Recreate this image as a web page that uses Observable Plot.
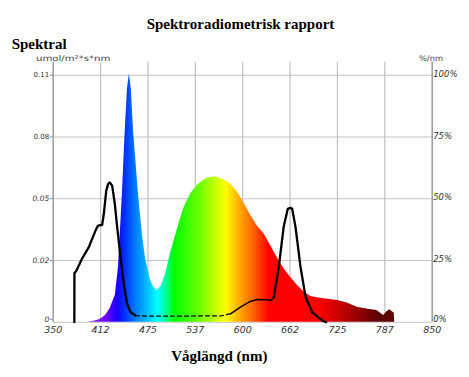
<!DOCTYPE html>
<html><head><meta charset="utf-8">
<script src="https://cdn.jsdelivr.net/npm/d3@7"></script>
<script src="https://cdn.jsdelivr.net/npm/@observablehq/plot@0.6"></script>
<style>
body{margin:0;background:#fff;}
#wrap{position:relative;width:469px;height:377px;overflow:hidden;background:#fff;}
#chart{position:absolute;left:0;top:0;}
.t{position:absolute;white-space:nowrap;line-height:15px;}
.serif{font-family:'Liberation Serif','Times New Roman',serif;font-weight:bold;font-size:15px;color:#000;}
.unit{font-family:'DejaVu Sans',sans-serif;font-size:7.8px;color:#444;line-height:9px;}
</style></head><body>
<div id="wrap">
  <div id="chart"></div>
  <div class="t serif" style="left:0;width:481px;text-align:center;top:16.7px;">Spektroradiometrisk rapport</div>
  <div class="t serif" style="left:11.7px;top:39.2px;line-height:11px;">Spektral</div>
  <div class="t unit" style="left:36px;top:53.6px;transform:scaleX(1.3);transform-origin:left top;">umol/m²*s*nm</div>
  <div class="t unit" style="left:419px;top:53.6px;transform:scaleX(1.06);transform-origin:left top;">%/nm</div>
  <div class="t serif" style="left:0;width:438.6px;text-align:center;top:349px;">Våglängd (nm)</div>
</div>
<script>
// ---- data ----
const xTicks = [350, 412.5, 475, 537.5, 600, 662.5, 725, 787.5, 850];
const xTickLabels = ["350", "412", "475", "537", "600", "662", "725", "787", "850"];
const yTicks = [0, 0.0275, 0.055, 0.0825, 0.11];
const leftTickLabels = ["0", "0.02", "0.05", "0.08", "0.11"];
const rightTickLabels = ["0%", "25%", "50%", "75%", "100%"];

// coloured spectrum (umol/m2*s*nm)
const specNm = [396, 405, 412, 419, 425, 432, 436, 441, 445, 448, 450.5, 453, 456, 463, 468, 472, 478, 483, 487, 492, 498, 505, 511, 517, 522, 531, 540, 552, 564, 575, 584, 593, 601, 610, 619, 628, 637, 645, 654, 663, 672, 681, 690, 698, 710, 725, 738, 751, 765, 777, 786, 790, 794, 798, 800, 800.5];
const specVal = [0, 0.0005, 0.0012, 0.003, 0.006, 0.012, 0.024, 0.055, 0.085, 0.104, 0.1105, 0.104, 0.085, 0.055, 0.038, 0.028, 0.019, 0.0155, 0.0141, 0.0158, 0.021, 0.031, 0.038, 0.045, 0.0505, 0.057, 0.061, 0.064, 0.0648, 0.0635, 0.0616, 0.058, 0.0534, 0.048, 0.043, 0.0394, 0.034, 0.029, 0.024, 0.020, 0.0165, 0.0134, 0.0115, 0.0109, 0.0103, 0.0097, 0.0085, 0.0067, 0.0058, 0.0052, 0.003, 0.0045, 0.0055, 0.0045, 0.004, 0];

// black reference curve (%/nm)
const refNm = [377.9, 378, 380.7, 388, 397, 405.8, 409, 414.6, 416.8, 420, 422.5, 424.7, 427.8, 431.3, 434.4, 438.8, 443, 447.6, 452, 458.6, 470, 490, 510, 530, 550, 570, 584, 597, 610, 619, 632, 637, 641, 647.6, 654, 659.5, 663, 665.3, 669.7, 676.3, 683, 691.7, 705, 710];
const refPct = [0, 19.8, 20.9, 25.7, 30.4, 37.1, 39.1, 39.4, 43.9, 53.3, 56.0, 56.6, 55.3, 47.9, 38.5, 26.3, 15.5, 7.4, 4.0, 2.7, 2.5, 2.5, 2.4, 2.5, 2.6, 2.5, 3.4, 6.1, 8.4, 9.2, 9.1, 8.8, 10.1, 22.3, 38.5, 45.9, 46.3, 45.9, 38.5, 22.3, 10.1, 4.0, 0.7, 0];

// gradient colours by wavelength
const gradNm = [395, 420, 435, 445, 460, 475, 488, 500, 510, 540, 560, 578, 595, 615, 635, 700, 740, 780, 800];
const gradColor = ["#9a32ff", "#7000ff", "#1a00ff", "#0030ff", "#0080ff", "#00c0ff", "#00ffff", "#00ff90", "#00ff00", "#60ff00", "#b0ff00", "#ffff00", "#ffb000", "#ff6000", "#ff0000", "#ff0000", "#b00000", "#5a0000", "#600000"];

// ---- tables ----
const spectrum = specNm.map((nm, i) => ({nm, v: specVal[i]}));
const ref = refNm.map((nm, i) => ({nm, v: refPct[i] / 100 * 0.11}));
const refA = ref.filter(d => d.nm <= 458.6);
const refB = ref.filter(d => d.nm >= 458.6 && d.nm <= 584);
const refC = ref.filter(d => d.nm >= 584 && d.nm <= 641);
const refD = ref.filter(d => d.nm >= 641);

const gridColor = "#c4c4c4";
const plot = Plot.plot({
  width: 469, height: 377,
  marginLeft: 52.7, marginRight: 37.3, marginTop: 61.7, marginBottom: 55.3,
  style: {fontFamily: "'DejaVu Sans', sans-serif", background: "transparent", overflow: "visible"},
  x: {domain: [350, 850], axis: null},
  y: {domain: [0, 0.1158], axis: null},
  marks: [
    Plot.gridX(xTicks, {stroke: gridColor, strokeOpacity: 1, strokeWidth: 1.3}),
    Plot.gridY(yTicks, {stroke: gridColor, strokeOpacity: 1, strokeWidth: 1.1}),
    Plot.areaY(spectrum, {x: "nm", y: "v", fill: "url(#specGrad)"}),
    Plot.line(refA, {x: "nm", y: "v", stroke: "#000", strokeWidth: 2.3, strokeLinejoin: "round"}),
    Plot.line(refB, {x: "nm", y: "v", stroke: "#000", strokeWidth: 1.2, strokeDasharray: "4,3"}),
    Plot.line(refC, {x: "nm", y: "v", stroke: "#000", strokeWidth: 1.4}),
    Plot.line(refD, {x: "nm", y: "v", stroke: "#000", strokeWidth: 2.3, strokeLinejoin: "round"}),
    Plot.ruleX([350, 850], {stroke: "#8a8a8a", strokeWidth: 1}),
    Plot.axisX(xTicks, {tickSize: 0, tickPadding: 4.5, fontSize: 9.5, fontStyle: "italic", fill: "#333", label: null,
      tickFormat: d => xTickLabels[xTicks.indexOf(d)]}),
    Plot.axisY([yTicks[3], yTicks[4]], {anchor: "left", tickSize: 3, tickPadding: 1, fontSize: 7, fill: "#333", stroke: "#888", label: null,
      tickFormat: d => leftTickLabels[yTicks.indexOf(d)]}),
    Plot.axisY([yTicks[1], yTicks[2]], {anchor: "left", tickSize: 3, tickPadding: 1, fontSize: 7.5, fontStyle: "italic", fill: "#333", stroke: "#888", label: null,
      tickFormat: d => leftTickLabels[yTicks.indexOf(d)]}),
    Plot.axisY([yTicks[0]], {anchor: "left", tickSize: 3, tickPadding: 1, fontSize: 7.5, fontStyle: "italic", fill: "#333", stroke: "#888", label: null, dy: -3,
      tickFormat: d => leftTickLabels[yTicks.indexOf(d)]}),
    Plot.axisY([yTicks[1], yTicks[2], yTicks[3], yTicks[4]], {anchor: "right", tickSize: 0, tickPadding: 1, fontSize: 8.5, fontStyle: "italic", fill: "#333", label: null, dy: -1,
      tickFormat: d => rightTickLabels[yTicks.indexOf(d)]}),
    Plot.axisY([yTicks[0]], {anchor: "right", tickSize: 0, tickPadding: 1, fontSize: 8.5, fontStyle: "italic", fill: "#333", label: null, dy: -3,
      tickFormat: d => rightTickLabels[yTicks.indexOf(d)]})
  ]
});

// gradient defined in the x scale's pixel space
const xs = plot.scale("x");
const X = d3.scaleLinear(xs.domain, xs.range);
const ns = "http://www.w3.org/2000/svg";
const defs = document.createElementNS(ns, "defs");
const lg = document.createElementNS(ns, "linearGradient");
lg.setAttribute("id", "specGrad");
lg.setAttribute("gradientUnits", "userSpaceOnUse");
lg.setAttribute("x1", X(gradNm[0]));
lg.setAttribute("x2", X(gradNm[gradNm.length - 1]));
lg.setAttribute("y1", 0);
lg.setAttribute("y2", 0);
const g0 = gradNm[0], g1 = gradNm[gradNm.length - 1];
gradNm.forEach((nm, i) => {
  const s = document.createElementNS(ns, "stop");
  s.setAttribute("offset", (nm - g0) / (g1 - g0));
  s.setAttribute("stop-color", gradColor[i]);
  lg.appendChild(s);
});
defs.appendChild(lg);
plot.insertBefore(defs, plot.firstChild);
document.getElementById("chart").appendChild(plot);
</script>
</body></html>
